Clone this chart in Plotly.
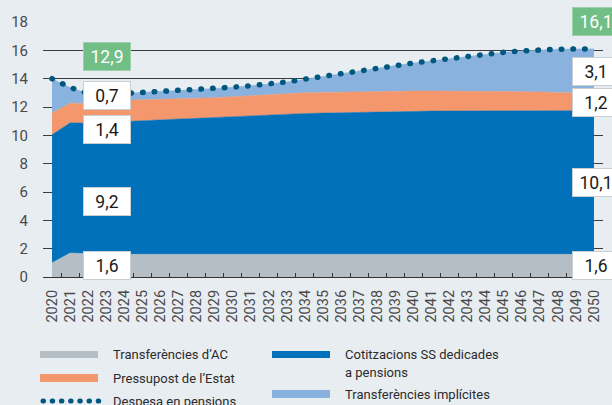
import plotly.graph_objects as go

years = [str(y) for y in range(2020, 2051)]

transf_ac = [1.0, 1.69, 1.65] + [1.6] * 28
cotitzacions = [9.05, 9.2, 9.2, 9.32, 9.37, 9.43, 9.49, 9.55, 9.6, 9.66, 9.73, 9.81, 9.87, 9.91, 9.94,
                9.97, 10.0, 10.02, 10.05, 10.07, 10.09, 10.11, 10.12, 10.13, 10.13, 10.14, 10.14, 10.14,
                10.14, 10.14, 10.14]
pressupost = [1.52, 1.38, 1.4, 1.48, 1.5, 1.47, 1.44, 1.41, 1.4, 1.4, 1.4, 1.39, 1.41, 1.44, 1.46,
              1.46, 1.46, 1.46, 1.45, 1.45, 1.44, 1.42, 1.41, 1.39, 1.38, 1.36, 1.34, 1.32, 1.3, 1.27, 1.23]
implicites = [2.43, 1.1, 0.7, 0.53, 0.5, 0.53, 0.56, 0.59, 0.62, 0.64, 0.67, 0.7, 0.74, 0.82, 0.97,
              1.14, 1.32, 1.5, 1.66, 1.81, 1.97, 2.13, 2.29, 2.45, 2.61, 2.76, 2.88, 2.98, 3.04, 3.09, 3.13]
despesa = [14.0, 13.38, 12.95, 12.93, 12.97, 13.03, 13.09, 13.15, 13.22, 13.3, 13.4, 13.5, 13.62, 13.77,
           13.97, 14.17, 14.38, 14.58, 14.76, 14.93, 15.1, 15.26, 15.42, 15.57, 15.72, 15.86, 15.96,
           16.04, 16.08, 16.1, 16.1]

y_ticks = list(range(0, 19, 2))

labels_2022 = ["12,9", "0,7", "1,4", "9,2", "1,6"]
labels_2050 = ["16,1", "3,1", "1,2", "10,1", "1,6"]

legend_names = ["Transferències d’AC", "Pressupost de l’Estat", "Despesa en pensions",
                "Cotitzacions SS dedicades", "a pensions", "Transferències implícites"]

C_GRAY = "#B4BEC4"
C_BLUE = "#0071BA"
C_ORANGE = "#F4976C"
C_LIGHT = "#8AB2DF"
C_DOTS = "#00587F"
C_GREEN = "#72BE87"
BG = "#E8EDF2"
FONT = "Roboto"

fig = go.Figure()
for name, vals, col in [("Transferències d’AC", transf_ac, C_GRAY),
                        ("Cotitzacions SS dedicades a pensions", cotitzacions, C_BLUE),
                        ("Pressupost de l’Estat", pressupost, C_ORANGE),
                        ("Transferències implícites", implicites, C_LIGHT)]:
    fig.add_trace(go.Scatter(x=years, y=vals, name=name, stackgroup="one", mode="lines",
                             line=dict(width=0.5, color=col), fillcolor=col, showlegend=False,
                             hoverinfo="skip"))

fig.add_trace(go.Scatter(x=years, y=despesa, name="Despesa en pensions", mode="lines",
                         line=dict(color=C_DOTS, width=5.5, dash="0.5px,11.2px"),
                         showlegend=False, hoverinfo="skip"))

# pixel -> paper helpers (plot area: x 43..603, y 22..277)
def px(x):
    return (x - 43) / 560.0

def py(y):
    return (277 - y) / 255.0

annotations = []
box_y = [57, 95.5, 129.5, 201.5, 265.5]
box_y_r = [21.5, 71.5, 102, 182, 265.5]
for i, (t, yy) in enumerate(zip(labels_2022, box_y)):
    green = i == 0
    annotations.append(dict(x=px(106.5), y=py(yy), xref="paper", yref="paper", text=t,
                            showarrow=False, xanchor="center", yanchor="middle",
                            width=46, height=27, borderpad=0, borderwidth=1,
                            bgcolor=C_GREEN if green else "white",
                            bordercolor="#9FD0AC" if green else "#C9CED3",
                            font=dict(family=FONT, size=17.5, color="white" if green else "#1a1a1a")))
for i, (t, yy) in enumerate(zip(labels_2050, box_y_r)):
    green = i == 0
    annotations.append(dict(x=px(596), y=py(yy), xref="paper", yref="paper", text=t,
                            showarrow=False, xanchor="center", yanchor="middle",
                            width=46, height=27, borderpad=0, borderwidth=1,
                            bgcolor=C_GREEN if green else "white",
                            bordercolor="#9FD0AC" if green else "#C9CED3",
                            font=dict(family=FONT, size=17.5, color="white" if green else "#1a1a1a")))

shapes = []
# legend glyphs
for (x0, x1, y0, y1, col) in [(40, 98, 351, 358, C_GRAY), (40, 98, 374, 382, C_ORANGE),
                              (272, 330, 351, 358, C_BLUE), (272, 330, 390, 398, C_LIGHT)]:
    shapes.append(dict(type="rect", xref="paper", yref="paper", x0=px(x0), x1=px(x1),
                       y0=py(y0), y1=py(y1), fillcolor=col, line=dict(width=0), layer="above"))
shapes.append(dict(type="line", xref="paper", yref="paper", x0=px(43), x1=px(99),
                   y0=py(401), y1=py(401), line=dict(color=C_DOTS, width=5, dash="0.5px,8.7px"),
                   layer="above"))

leg_pos = [(111, 354), (111, 378), (111, 401), (343, 354), (343, 372), (343, 394)]
for t, (xx, yy) in zip(legend_names, leg_pos):
    annotations.append(dict(x=px(xx), y=py(yy), xref="paper", yref="paper", text=t,
                            showarrow=False, xanchor="left", yanchor="middle",
                            font=dict(family=FONT, size=13, color="#2b2b2b")))

fig.update_layout(
    width=612, height=405, autosize=False,
    margin=dict(l=43, r=9, t=22, b=128, pad=0),
    paper_bgcolor=BG, plot_bgcolor=BG,
    font=dict(family=FONT),
    annotations=annotations, shapes=shapes,
    showlegend=False,
)
fig.update_xaxes(type="category", categoryorder="array", categoryarray=years,
                 range=[-0.5, 30.5], tickson="boundaries", ticks="inside", ticklen=4,
                 tickcolor="#333333", tickwidth=1, showline=True, linecolor="#333333",
                 linewidth=1.3, tickangle=-90, showgrid=False, automargin=False,
                 tickfont=dict(family=FONT, size=14.5, color="#4a4a4a"), ticklabelstandoff=6)
fig.update_yaxes(range=[0, 18], tickvals=y_ticks, showgrid=True, gridcolor="#3c3c3c",
                 gridwidth=1, zeroline=False, showline=False, ticks="", automargin=False,
                 tickfont=dict(family=FONT, size=15, color="#4a4a4a"), ticklabelstandoff=14)

post = ("var s=document.createElement('style');"
        "s.textContent='html,body{margin:0;padding:0;overflow:hidden;background:#E8EDF2}"
        " .scatterlayer .js-line, .shapelayer path{stroke-linecap:round}';"
        "document.head.appendChild(s);")
fig.write_html("out.html", post_script=post, config={"displayModeBar": False})
